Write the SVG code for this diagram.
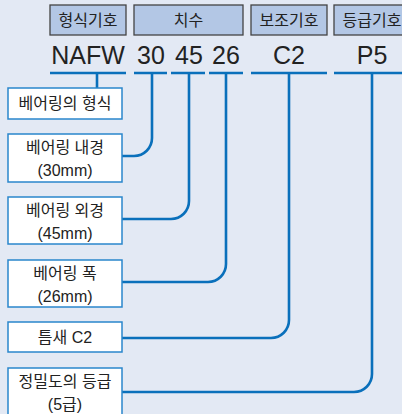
<svg xmlns="http://www.w3.org/2000/svg" width="402" height="414" viewBox="0 0 402 414">
<style>
.hdr{fill:#b3c7e5;stroke:#444;stroke-width:1.3}
.ht{font-family:"Liberation Sans","Noto Sans CJK KR",sans-serif;font-size:16px;fill:#222;text-anchor:middle}
.code{font-family:"Liberation Sans",Arial,sans-serif;font-size:25px;fill:#222;text-anchor:middle}
.box{fill:#fff;stroke:#2a86cc;stroke-width:1.5}
.bt{font-family:"Liberation Sans","Noto Sans CJK KR",sans-serif;font-size:16px;fill:#222;text-anchor:middle}
.ln{fill:none;stroke:#0a70bb;stroke-width:2.6}
</style>
<rect width="402" height="414" fill="#e3e9f4"/>
<g id="header-type"><rect class="hdr" x="50" y="5" width="76" height="30"/><text class="ht" x="88" y="26">형식기호</text></g>
<g id="header-dim"><rect class="hdr" x="134" y="5" width="109" height="30"/><text class="ht" x="188.5" y="26">치수</text></g>
<g id="header-aux"><rect class="hdr" x="251" y="5" width="76" height="30"/><text class="ht" x="289" y="26">보조기호</text></g>
<g id="header-grade"><rect class="hdr" x="334" y="5" width="76" height="30"/><text class="ht" x="372" y="26">등급기호</text></g>
<g id="code">
<text class="code" x="88" y="64">NAFW</text>
<text class="code" x="151" y="64">30</text>
<text class="code" x="189" y="64">45</text>
<text class="code" x="226" y="64">26</text>
<text class="code" x="289" y="64">C2</text>
<text class="code" x="372" y="64">P5</text>
</g>
<g id="connectors">
<path class="ln" d="M50 73H126M134 73H167M171 73H205M209 73H243M251 73H327M334 73H402"/>
<path class="ln" d="M97 73V88"/>
<path class="ln" d="M152 73V138A18 18 0 0 1 134 156H122"/>
<path class="ln" d="M189 73V201A18 18 0 0 1 171 219H122"/>
<path class="ln" d="M226 73V264A18 18 0 0 1 208 282H122"/>
<path class="ln" d="M289 73V320A18 18 0 0 1 271 338H122"/>
<path class="ln" d="M372 73V374A18 18 0 0 1 354 392H122"/>
</g>
<g id="n1"><rect class="box" x="8" y="88" width="114" height="31"/><text class="bt" x="65" y="109">베어링의 형식</text></g>
<g id="n2"><rect class="box" x="8" y="134" width="114" height="48"/><text class="bt" x="65" y="153">베어링 내경</text><text class="bt" x="65" y="176">(30mm)</text></g>
<g id="n3"><rect class="box" x="8" y="197" width="114" height="47"/><text class="bt" x="65" y="216">베어링 외경</text><text class="bt" x="65" y="239">(45mm)</text></g>
<g id="n4"><rect class="box" x="8" y="260" width="114" height="47"/><text class="bt" x="65" y="279">베어링 폭</text><text class="bt" x="65" y="302">(26mm)</text></g>
<g id="n5"><rect class="box" x="8" y="322" width="114" height="30"/><text class="bt" x="65" y="343">틈새 C2</text></g>
<g id="n6"><rect class="box" x="8" y="368" width="114" height="50"/><text class="bt" x="65" y="387">정밀도의 등급</text><text class="bt" x="65" y="410">(5급)</text></g>
</svg>
